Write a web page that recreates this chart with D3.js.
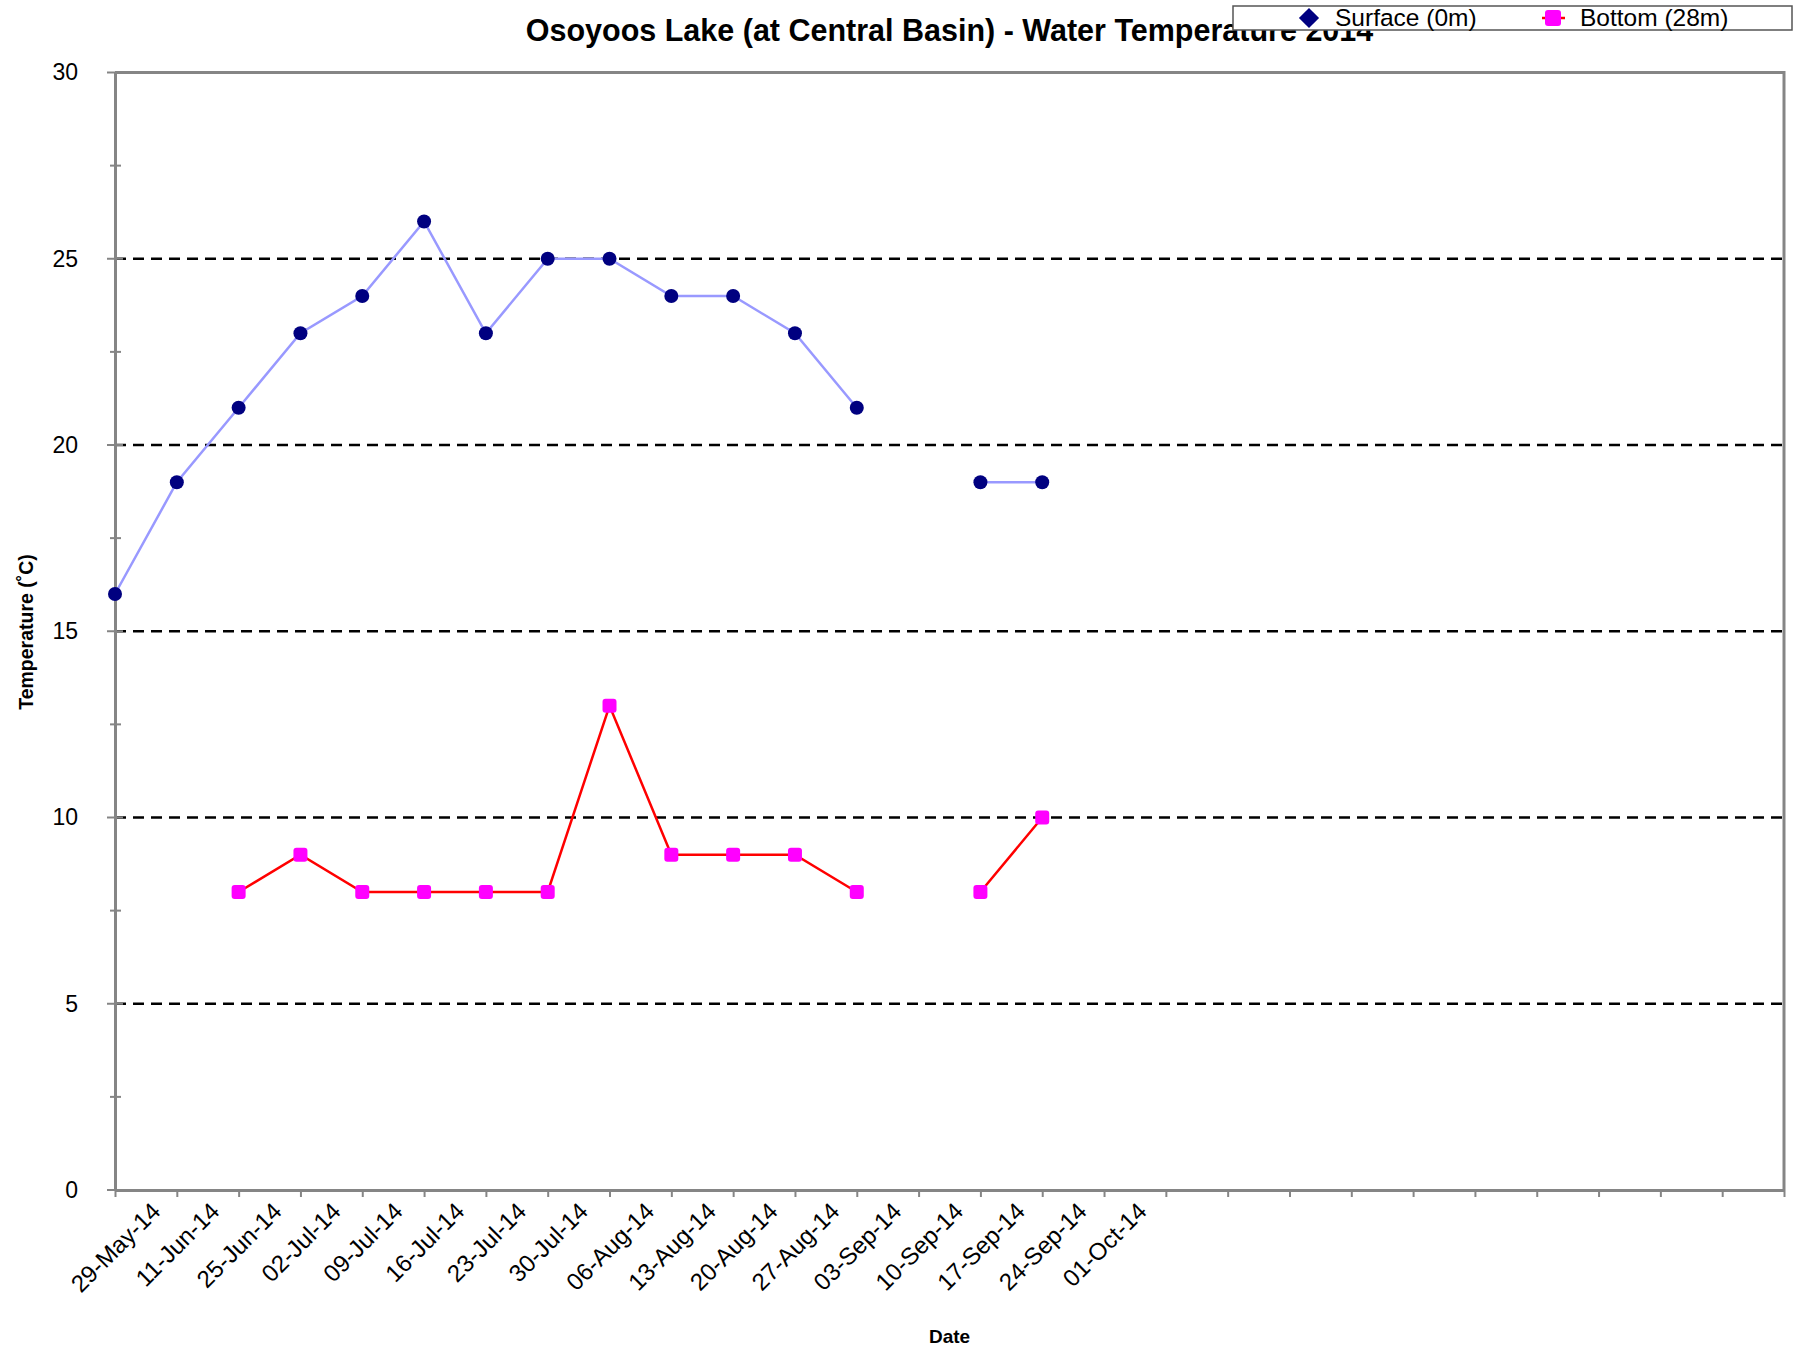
<!DOCTYPE html>
<html>
<head>
<meta charset="utf-8">
<script src="https://cdn.jsdelivr.net/npm/d3@7"></script>
<style>
  body { margin: 0; background: #fff; }
  svg { display: block; font-family: "Liberation Sans", Arial, sans-serif; }
</style>
</head>
<body>
<div class="chart"></div>
<script>
// category labels (28 slots on the axis, only the first 17 carry a date)
var dateLabels = ["29-May-14", "11-Jun-14", "25-Jun-14", "02-Jul-14", "09-Jul-14",
  "16-Jul-14", "23-Jul-14", "30-Jul-14", "06-Aug-14", "13-Aug-14", "20-Aug-14",
  "27-Aug-14", "03-Sep-14", "10-Sep-14", "17-Sep-14", "24-Sep-14", "01-Oct-14",
  "", "", "", "", "", "", "", "", "", "", ""];

// water temperature, null = no sample
var surfaceTemps = [16, 19, 21, 23, 24, 26, 23, 25, 25, 24, 24, 23, 21, null, 19, 19];
var bottomTemps = [null, null, 8, 9, 8, 8, 8, 8, 13, 9, 9, 9, 8, null, 8, 10];

var yMajorTicks = [0, 5, 10, 15, 20, 25, 30];
var yMinorTicks = [2.5, 7.5, 12.5, 17.5, 22.5, 27.5];
var gridValues = [5, 10, 15, 20, 25];

var svgWidth = 1798;
var svgHeight = 1353;

var plot = { left: 115, right: 1784, top: 72.5, bottom: 1190 };

var svg = d3.select(".chart")
  .append("svg")
  .attr("width", svgWidth)
  .attr("height", svgHeight);

// scales
var xScale = d3.scalePoint()
  .domain(d3.range(dateLabels.length))
  .range([plot.left, plot.right]);

var yScale = d3.scaleLinear()
  .domain([0, 30])
  .range([plot.bottom, plot.top]);

// dashed gridlines
svg.append("g")
  .selectAll("line")
  .data(gridValues)
  .enter()
  .append("line")
  .attr("x1", plot.left)
  .attr("x2", plot.right)
  .attr("y1", d => yScale(d))
  .attr("y2", d => yScale(d))
  .attr("stroke", "#000")
  .attr("stroke-width", 2.5)
  .attr("stroke-dasharray", "11,7");

// plot frame (top and right)
svg.append("path")
  .attr("d", `M${plot.left},${plot.top}H${plot.right}V${plot.bottom}`)
  .attr("fill", "none")
  .attr("stroke", "#858585")
  .attr("stroke-width", 3);

// y axis
var yAxis = d3.axisLeft(yScale)
  .tickValues(yMajorTicks)
  .tickSize(0)
  .tickPadding(37);

var yAxisG = svg.append("g")
  .attr("transform", `translate(${plot.left},0)`)
  .call(yAxis);

yAxisG.select(".domain").attr("stroke", "#858585").attr("stroke-width", 3);
yAxisG.selectAll("text")
  .attr("font-size", 23)
  .attr("fill", "#000")
  .attr("font-family", "Liberation Sans, Arial, sans-serif");

// crossing tick marks on y axis
yAxisG.selectAll(".major")
  .data(yMajorTicks)
  .enter()
  .append("line")
  .attr("x1", -8).attr("x2", 8)
  .attr("y1", d => yScale(d)).attr("y2", d => yScale(d))
  .attr("stroke", "#858585")
  .attr("stroke-width", 2);

yAxisG.selectAll(".minor")
  .data(yMinorTicks)
  .enter()
  .append("line")
  .attr("x1", -5).attr("x2", 6)
  .attr("y1", d => yScale(d)).attr("y2", d => yScale(d))
  .attr("stroke", "#858585")
  .attr("stroke-width", 2);

// x axis
var xAxis = d3.axisBottom(xScale)
  .tickSizeInner(7)
  .tickSizeOuter(0)
  .tickFormat(i => dateLabels[i]);

var xAxisG = svg.append("g")
  .attr("transform", `translate(0,${plot.bottom})`)
  .call(xAxis);

xAxisG.select(".domain").attr("stroke", "#858585").attr("stroke-width", 3);
xAxisG.selectAll(".tick line").attr("stroke", "#858585").attr("stroke-width", 2);

// rotated labels, centred under their tick
var labelSize = 24;
xAxisG.selectAll(".tick text")
  .attr("font-size", labelSize)
  .attr("font-family", "Liberation Sans, Arial, sans-serif")
  .attr("fill", "#000")
  .attr("text-anchor", "middle")
  .attr("dy", "0.35em")
  .attr("y", 0)
  .each(function() {
    var len = this.getComputedTextLength();
    var half = 0.7071 * (len + labelSize * 0.8) / 2;
    d3.select(this).attr("transform", `translate(0,${10 + half}) rotate(-45)`);
  });

// line generators
var lineGen = d3.line()
  .defined(d => d != null)
  .x((d, i) => xScale(i))
  .y(d => yScale(d));

svg.append("path")
  .datum(surfaceTemps)
  .attr("d", lineGen)
  .attr("fill", "none")
  .attr("stroke", "#9999ff")
  .attr("stroke-width", 2.5);

svg.append("path")
  .datum(bottomTemps)
  .attr("d", lineGen)
  .attr("fill", "none")
  .attr("stroke", "#ff0000")
  .attr("stroke-width", 2.5);

// markers
var surfacePts = surfaceTemps.map((v, i) => ({ i: i, v: v })).filter(d => d.v != null);
var bottomPts = bottomTemps.map((v, i) => ({ i: i, v: v })).filter(d => d.v != null);

svg.append("g")
  .selectAll("circle")
  .data(surfacePts)
  .enter()
  .append("circle")
  .attr("cx", d => xScale(d.i))
  .attr("cy", d => yScale(d.v))
  .attr("r", 7)
  .attr("fill", "#000080");

svg.append("g")
  .selectAll("rect")
  .data(bottomPts)
  .enter()
  .append("rect")
  .attr("x", d => xScale(d.i) - 7)
  .attr("y", d => yScale(d.v) - 7)
  .attr("width", 14)
  .attr("height", 14)
  .attr("rx", 3)
  .attr("fill", "#ff00ff");

// titles
svg.append("text")
  .attr("x", 949.5)
  .attr("y", 40.5)
  .attr("text-anchor", "middle")
  .attr("font-size", 30.5)
  .attr("font-weight", "bold")
  .text("Osoyoos Lake (at Central Basin) - Water Temperature 2014");

svg.append("text")
  .attr("transform", "translate(33,632) rotate(-90)")
  .attr("text-anchor", "middle")
  .attr("font-size", 19.5)
  .attr("font-weight", "bold")
  .text("Temperature (˚C)");

svg.append("text")
  .attr("x", 949.5)
  .attr("y", 1343)
  .attr("text-anchor", "middle")
  .attr("font-size", 19)
  .attr("font-weight", "bold")
  .text("Date");

// legend (sits on top of the title, like the original)
var legend = svg.append("g");

legend.append("rect")
  .attr("x", 1233)
  .attr("y", 6)
  .attr("width", 559)
  .attr("height", 24)
  .attr("fill", "#fff")
  .attr("stroke", "#555")
  .attr("stroke-width", 1.5);

legend.append("path")
  .attr("d", d3.symbol().type(d3.symbolDiamond2).size(260)())
  .attr("transform", "translate(1309,18)")
  .attr("fill", "#000080");

legend.append("text")
  .attr("x", 1335)
  .attr("y", 26)
  .attr("font-size", 24.5)
  .text("Surface (0m)");

legend.append("line")
  .attr("x1", 1542).attr("x2", 1565)
  .attr("y1", 18).attr("y2", 18)
  .attr("stroke", "#ff0000")
  .attr("stroke-width", 2.5);

legend.append("rect")
  .attr("x", 1545)
  .attr("y", 10)
  .attr("width", 16)
  .attr("height", 16)
  .attr("rx", 3)
  .attr("fill", "#ff00ff");

legend.append("text")
  .attr("x", 1580)
  .attr("y", 26)
  .attr("font-size", 24.5)
  .text("Bottom (28m)");
</script>
</body>
</html>
